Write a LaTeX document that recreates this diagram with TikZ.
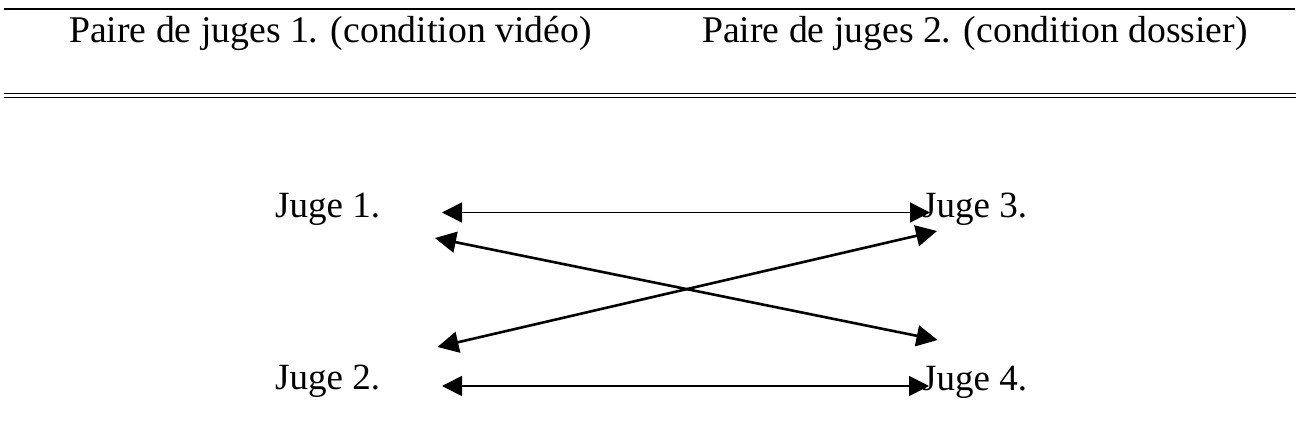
\documentclass[tikz,border=0pt]{standalone}
\usepackage{fontspec}
\setmainfont{Liberation Serif}
\usetikzlibrary{arrows.meta}
\begin{document}
\begin{tikzpicture}[x=1pt,y=-1pt,
  label/.style={anchor=base west,inner sep=0pt,font=\fontsize{37.7}{45}\selectfont},
  juge/.style={anchor=base west,inner sep=0pt,font=\fontsize{37}{44}\selectfont},
  rule/.style={line width=1.8pt},
  thinrule/.style={line width=1.2pt},
  link/.style={line width=1.7pt,{Triangle[length=20pt,width=20pt]}-{Triangle[length=20pt,width=20pt]}},
  cross/.style={line width=2.6pt,{Triangle[length=21pt,width=21pt]}-{Triangle[length=21pt,width=21pt]}}]
\useasboundingbox (0,0) rectangle (1296,436);

% table rules
\coordinate (tl) at (4,9);
\coordinate (tr) at (1295,9);
\coordinate (bl1) at (4,93.8);
\coordinate (br1) at (1296,93.8);
\coordinate (bl2) at (4,97.6);
\coordinate (br2) at (1296,97.6);
\draw[rule] (tl) -- (tr);
\draw[thinrule] (bl1) -- (br1);
\draw[thinrule] (bl2) -- (br2);

% column headings
\node[label] (h1) at (69,43) {Paire de juges 1. (condition vidéo)};
\node[label] (h2) at (702,43) {Paire de juges 2. (condition dossier)};

% judges
\node[juge] (j1) at (275,217) {Juge 1.};
\node[juge] (j2) at (275,389) {Juge 2.};
\node[juge] (j3) at (922,217) {Juge 3.};
\node[juge] (j4) at (922,390) {Juge 4.};

% arrow ends
\coordinate (a1) at (442,212.5);
\coordinate (a3) at (930,212.5);
\coordinate (b2) at (442,386);
\coordinate (b4) at (929,386);
\coordinate (c1) at (435,238);
\coordinate (c4) at (937.5,340);
\coordinate (d2) at (437.5,347);
\coordinate (d3) at (937,231);

\draw[link] (a1) -- (a3);
\draw[link] (b2) -- (b4);
\draw[cross] (c1) -- (c4);
\draw[cross] (d2) -- (d3);
\end{tikzpicture}
\end{document}
